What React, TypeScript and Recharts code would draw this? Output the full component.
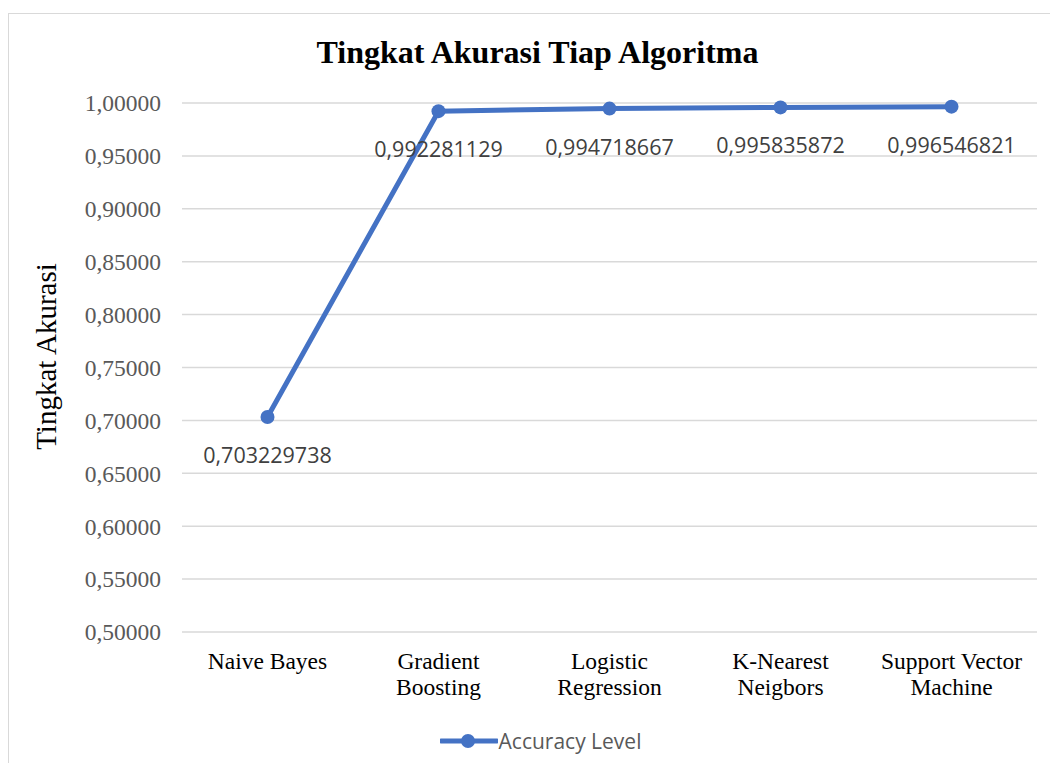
import { LineChart, Line, XAxis, YAxis, CartesianGrid, Legend, LabelList } from "recharts";

const algorithms = ["Naive Bayes", "Gradient Boosting", "Logistic Regression", "K-Nearest Neigbors", "Support Vector Machine"];
const accuracy = [0.703229738, 0.992281129, 0.994718667, 0.995835872, 0.996546821];
const yTicks = [0.5, 0.55, 0.6, 0.65, 0.7, 0.75, 0.8, 0.85, 0.9, 0.95, 1.0];

const data = algorithms.map((name, i) => ({ name, accuracy: accuracy[i] }));

const BLUE = "#4472C4";
const SERIF = "'Liberation Serif', 'Times New Roman', serif";
const SANS = "'Open Sans', 'Liberation Sans', sans-serif";
const TICK_FONT = `23.5px ${SERIF}`;

const commaDecimal = (v: number, digits: number) => v.toFixed(digits).replace(".", ",");

// greedy word wrap measured with the real tick font
let measureCtx: CanvasRenderingContext2D | null = null;
function wrapWords(label: string, maxWidth: number): string[] {
  if (!measureCtx) measureCtx = document.createElement("canvas").getContext("2d");
  const ctx = measureCtx!;
  ctx.font = TICK_FONT;
  const lines: string[] = [];
  let current = "";
  for (const word of label.split(" ")) {
    const attempt = current ? `${current} ${word}` : word;
    if (current && ctx.measureText(attempt).width > maxWidth) {
      lines.push(current);
      current = word;
    } else {
      current = attempt;
    }
  }
  if (current) lines.push(current);
  return lines;
}

function CategoryTick(props: any) {
  const { x, y, payload } = props;
  const lines = wrapWords(String(payload.value), 150);
  return (
    <text x={x} y={y} textAnchor="middle" fontFamily={SERIF} fontSize={23.5} fill="#000">
      {lines.map((line, i) => (
        <tspan key={i} x={x} dy={i === 0 ? 17 : 26}>
          {line}
        </tspan>
      ))}
    </text>
  );
}

function ValueLabel(props: any) {
  const { x, y, value } = props;
  return (
    <text x={x} y={y + 46} textAnchor="middle" fontFamily={SANS} fontSize={21.5} fill="#404040">
      {String(value).replace(".", ",")}
    </text>
  );
}

function AxisTitle(props: any) {
  const { viewBox } = props;
  const cx = 47;
  const cy = viewBox.y + viewBox.height / 2 - 11;
  return (
    <text
      x={cx}
      y={cy}
      transform={`rotate(-90, ${cx}, ${cy})`}
      textAnchor="middle"
      fontFamily={SERIF}
      fontSize={29}
      fill="#000"
    >
      Tingkat Akurasi
    </text>
  );
}

function LegendContent() {
  return (
    <div style={{ display: "flex", justifyContent: "center", alignItems: "center", height: 30, paddingLeft: 14 }}>
      <svg width={58} height={20}>
        <line x1={1} y1={10} x2={57} y2={10} stroke={BLUE} strokeWidth={5} strokeLinecap="round" />
        <circle cx={28} cy={10} r={7} fill={BLUE} />
      </svg>
      <span style={{ fontFamily: SANS, fontSize: 21, color: "#595959", marginLeft: 1 }}>Accuracy Level</span>
    </div>
  );
}

export default function App() {
  return (
    <div
      style={{
        position: "relative",
        top: 5,
        width: 1050,
        height: 755,
        boxSizing: "border-box",
        borderLeft: "1.5px solid #d9d9d9",
        borderTop: "1.5px solid #d9d9d9",
        background: "#fff",
      }}
    >
      <div
        style={{
          position: "absolute",
          top: 22,
          left: 0,
          width: 1057,
          textAlign: "center",
          fontFamily: SERIF,
          fontWeight: "bold",
          fontSize: 32,
          lineHeight: 1,
          color: "#000",
        }}
      >
        Tingkat Akurasi Tiap Algoritma
      </div>
      <LineChart width={1049} height={754} data={data} margin={{ top: 89, right: 21, left: 0, bottom: 0 }}>
        <CartesianGrid vertical={false} stroke="#d9d9d9" strokeWidth={1.5} />
        <XAxis
          dataKey="name"
          height={136}
          axisLine={false}
          tickLine={false}
          tickSize={0}
          tickMargin={20}
          interval={0}
          padding={{ left: 85.5, right: 85.5 }}
          tick={<CategoryTick />}
        />
        <YAxis
          width={173}
          domain={[0.5, 1]}
          ticks={yTicks}
          axisLine={false}
          tickLine={false}
          tickSize={0}
          tickMargin={21}
          tickFormatter={(v: number) => commaDecimal(v, 5)}
          tick={{ fontFamily: SERIF, fontSize: 23.5, fill: "#595959" }}
          label={<AxisTitle />}
        />
        <Legend verticalAlign="middle" wrapperStyle={{ top: 712, left: 0, width: 1049 }} content={<LegendContent />} />
        <Line
          type="linear"
          dataKey="accuracy"
          name="Accuracy Level"
          stroke={BLUE}
          strokeWidth={5}
          dot={{ r: 7, fill: BLUE, stroke: BLUE, strokeWidth: 0 }}
          isAnimationActive={false}
        >
          <LabelList dataKey="accuracy" content={<ValueLabel />} />
        </Line>
      </LineChart>
    </div>
  );
}
